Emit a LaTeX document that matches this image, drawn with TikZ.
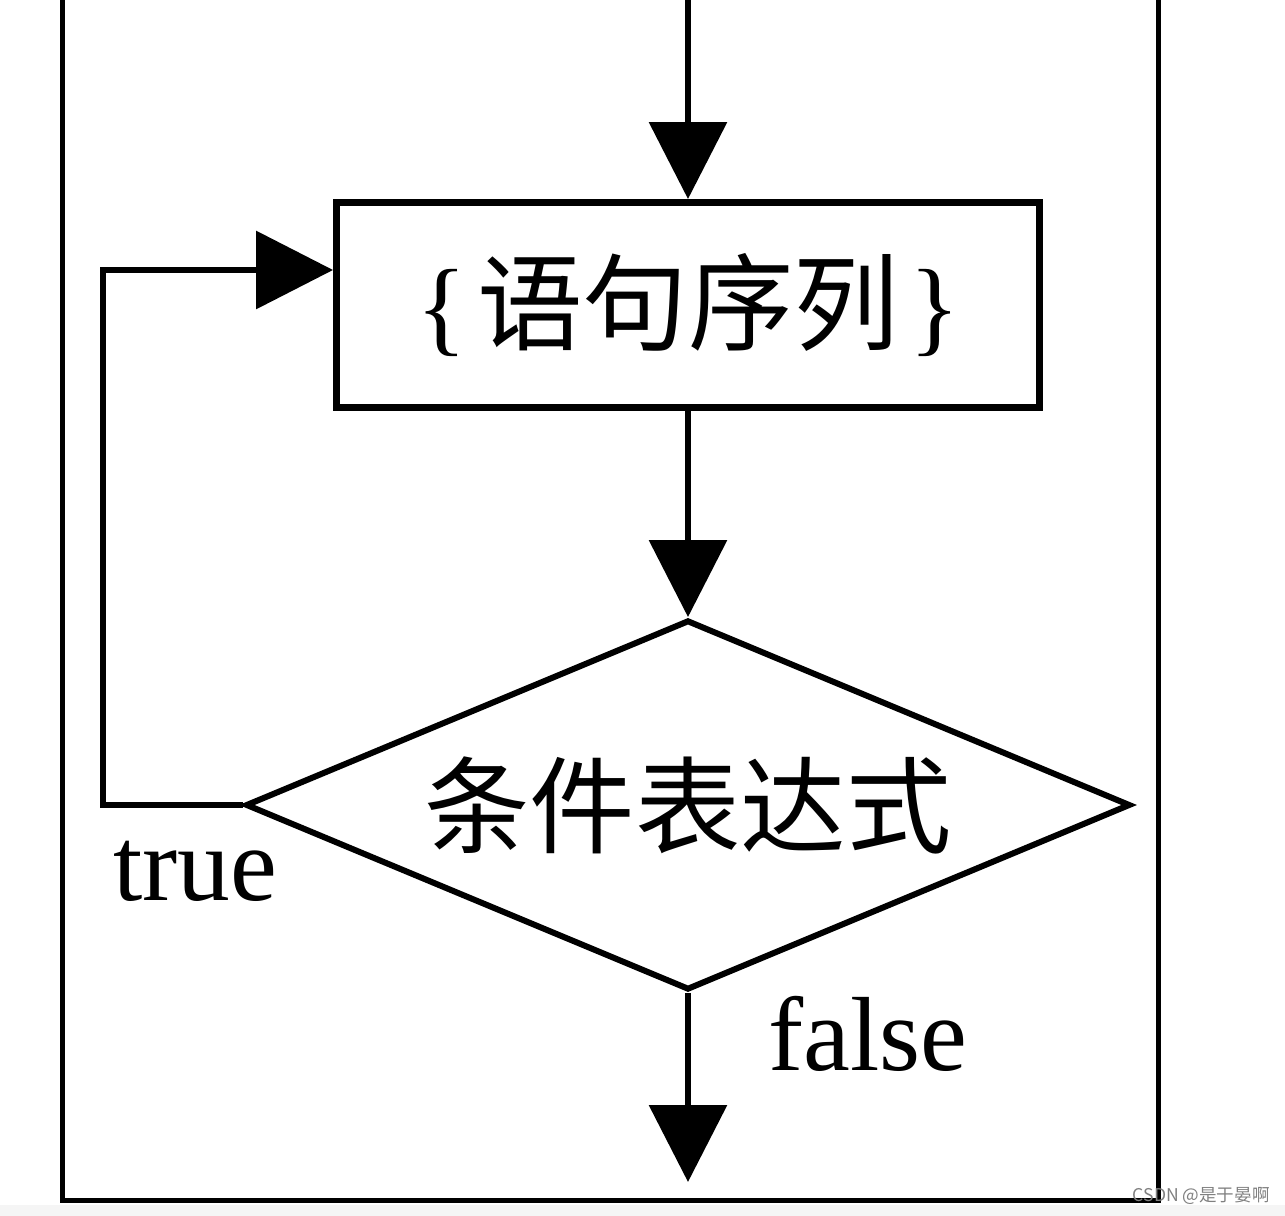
\documentclass[tikz,border=0pt]{standalone}
\usepackage{fontspec}
\setmainfont{Liberation Serif}
\newfontfamily\cjk{Noto Sans CJK SC}
\usetikzlibrary{arrows.meta,shapes.geometric,calc}

\begin{document}
\begin{tikzpicture}[x=0.02cm,y=-0.02cm,
    flow/.style={line width=0.13cm,-{Triangle[length=1.54cm,width=1.54cm]}},
    body/.style={draw,line width=0.14cm,minimum width=14.06cm,minimum height=4.1cm,inner sep=0pt},
    cond/.style={draw,diamond,aspect=2.39,line width=0.12cm,minimum width=17.7cm,minimum height=7.4cm,inner sep=0pt},
    big/.style={font=\fontsize{60}{72}\selectfont,inner sep=0pt}]
  \useasboundingbox (0,0) rectangle (1285,1216);
  \fill[gray!8] (0,1205) rectangle (1285,1216);

  % Outer frame, open at the top
  \draw[line width=0.1cm] (62,0) -- (62,1200) -- (1158,1200) -- (1158,0);

  % Loop body and test
  \coordinate (entry) at (688,0);
  \node[body,big] (seq) at (688,305) {\{\kern0.1em{\cjk 语句序列}\kern0.1em\}};
  \node[cond,big] (test) at (688,805) {\cjk 条件表达式};
  \coordinate (exit) at (688,1182);
  \coordinate (back) at (103,270);

  % Connectors
  \draw[flow] (entry) -- (seq);
  \draw[flow] (seq) -- (test.north);
  \draw[flow,line join=miter] (test.west) -- (test.west -| back) -- (back) -- (back -| seq.west);
  \draw[flow] (test.south) -- (exit);

  % Branch labels
  \node[big,anchor=base west] (truelbl) at (113,900) {true};
  \node[big,anchor=base west] (falselbl) at (768,1070) {false};

  \node[font=\cjk\fontsize{10}{11}\selectfont,text=gray,anchor=east,inner sep=0pt] (mark) at (1270,1196) {CSDN @是于晏啊};
\end{tikzpicture}
\end{document}
